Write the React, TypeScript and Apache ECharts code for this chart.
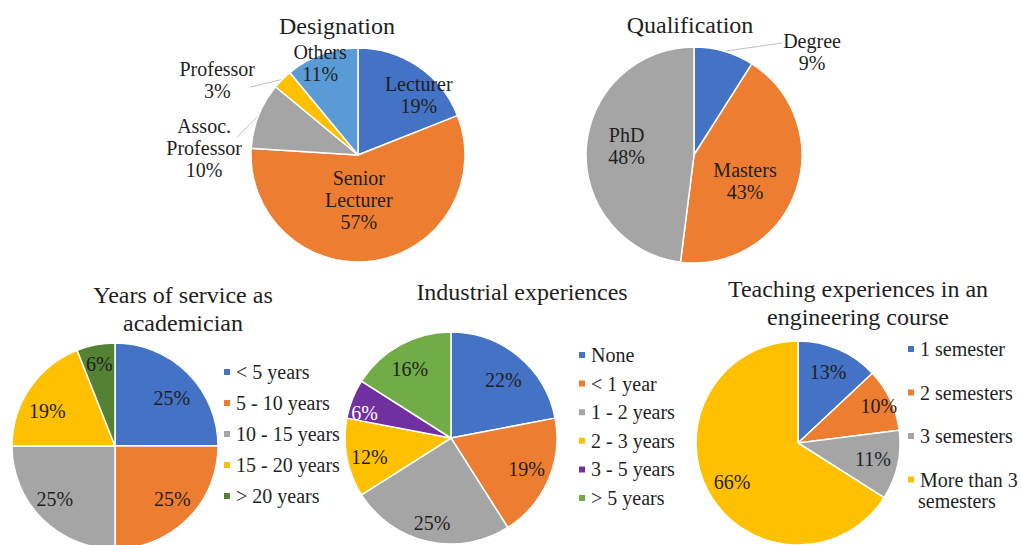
import React, { useEffect, useRef } from "react";
import * as echarts from "echarts";

// ---------- DATA ----------
const designationNames = ["Lecturer", "Senior Lecturer", "Assoc. Professor", "Professor", "Others"];
const designationLabels = ["Lecturer", "Senior\nLecturer", "Assoc.\nProfessor", "Professor", "Others"];
const designationValues = [19, 57, 10, 3, 11];

const qualificationNames = ["Degree", "Masters", "PhD"];
const qualificationValues = [9, 43, 48];

const serviceNames = ["< 5 years", "5 - 10 years", "10 - 15 years", "15 - 20 years", "> 20 years"];
const serviceValues = [25, 25, 25, 19, 6];

const industryNames = ["None", "< 1 year", "1 - 2 years", "2 - 3 years", "3 - 5 years", "> 5 years"];
const industryValues = [22, 19, 25, 12, 6, 16];

const teachingNames = ["1 semester", "2 semesters", "3 semesters", "More than 3 semesters"];
const teachingValues = [13, 10, 11, 66];

const titles = ["Designation", "Qualification", "Years of service as\nacademician", "Industrial experiences", "Teaching experiences in an\nengineering course"];

// ---------- STYLE ----------
const FONT = "Liberation Serif";
const TEXT = "#1f1f1f";
const BLUE = "#4472C4", ORANGE = "#ED7D31", GRAY = "#A5A5A5", YELLOW = "#FFC000", LBLUE = "#5B9BD5";
const GREEN = "#70AD47", DGREEN = "#548235", PURPLE = "#7030A0";

type Pie = {
  names: string[];
  values: number[];
  colors: string[];
  cx: number; cy: number; r: number;
  frac: number[];      // label distance as fraction of radius
  off: number[];       // angular tweak of label, degrees
  fmt: (i: number, v: number) => string;
  labelColors?: (string | null)[];
  leader?: ([number, number] | null)[]; // leader line end relative to label anchor
};

const pies: Pie[] = [
  {
    names: designationNames, values: designationValues,
    colors: [BLUE, ORANGE, GRAY, YELLOW, LBLUE],
    cx: 358, cy: 155, r: 107,
    frac: [0.8, 0.42, 1.44, 1.49, 0.93],
    off: [11, 8, -19, -17, -2.6],
    fmt: (i, v) => `${designationLabels[i]}\n${v}%`,
    leader: [null, null, [33, -11], [33, 7], null],
  },
  {
    names: qualificationNames, values: qualificationValues,
    colors: [BLUE, ORANGE, GRAY],
    cx: 694, cy: 155, r: 108,
    frac: [1.45, 0.53, 0.63],
    off: [32.7, 7.2, 4.1],
    fmt: (i, v) => `${qualificationNames[i]}\n${v}%`,
    leader: [[-30, -9], null, null],
  },
  {
    names: serviceNames, values: serviceValues,
    colors: [BLUE, ORANGE, GRAY, YELLOW, DGREEN],
    cx: 115, cy: 446, r: 103,
    frac: [0.72, 0.76, 0.78, 0.74, 0.81],
    off: [4.9, -2, 3.5, -7, 0],
    fmt: (_i, v) => `${v}%`,
  },
  {
    names: industryNames, values: industryValues,
    colors: [BLUE, ORANGE, GRAY, YELLOW, PURPLE, GREEN],
    cx: 451, cy: 438, r: 106,
    frac: [0.74, 0.77, 0.82, 0.79, 0.85, 0.76],
    off: [2.3, -1.2, 0, -2.2, -5.4, -1.9],
    fmt: (_i, v) => `${v}%`,
    labelColors: [null, null, null, null, "#ffffff", null],
  },
  {
    names: teachingNames, values: teachingValues,
    colors: [BLUE, ORANGE, GRAY, YELLOW],
    cx: 798, cy: 443, r: 102,
    frac: [0.76, 0.87, 0.75, 0.75],
    off: [-0.5, 0.7, -0.6, -1.8],
    fmt: (_i, v) => `${v}%`,
  },
];

const titlePos: [number, number][] = [[337, 26], [690, 25], [183, 309], [522, 292], [858, 303]];

function midAngles(values: number[]) {
  const total = values.reduce((a, b) => a + b, 0);
  let cum = 0;
  return values.map((v) => {
    const m = ((cum + v / 2) / total) * 360;
    cum += v;
    return m;
  });
}

function polar(cx: number, cy: number, d: number, deg: number): [number, number] {
  const a = (deg * Math.PI) / 180;
  return [cx + d * Math.sin(a), cy - d * Math.cos(a)];
}

const labelPoints = pies.map((p) => {
  const mids = midAngles(p.values);
  return mids.map((m, i) => polar(p.cx, p.cy, p.frac[i] * p.r, m + p.off[i]));
});

export default function App() {
  const ref = useRef<HTMLDivElement>(null);
  useEffect(() => {
    document.body.style.margin = "0";
    if (!ref.current) return;
    const chart = echarts.init(ref.current, undefined, { renderer: "svg" });

    const series = pies.map((p, si) => ({
      type: "pie",
      center: [p.cx, p.cy],
      radius: p.r,
      startAngle: 90,
      clockwise: true,
      avoidLabelOverlap: false,
      emphasis: { disabled: true },
      itemStyle: { borderColor: "#ffffff", borderWidth: 1.5 },
      label: {
        show: true,
        position: "inside",
        fontFamily: FONT,
        fontSize: 20,
        lineHeight: 22,
        color: TEXT,
        formatter: (prm: any) => p.fmt(prm.dataIndex, prm.value),
      },
      labelLine: { show: false },
      labelLayout: (prm: any) => {
        const pt = labelPoints[si][prm.dataIndex];
        return { x: pt[0], y: pt[1], align: "center", verticalAlign: "middle" };
      },
      data: p.values.map((v, i) => ({
        name: p.names[i],
        value: v,
        itemStyle: { color: p.colors[i] },
        label: p.labelColors && p.labelColors[i] ? { color: p.labelColors[i] } : undefined,
      })),
    }));

    const graphic: any[] = [];
    titles.forEach((t, i) => {
      graphic.push({
        type: "text",
        x: titlePos[i][0],
        y: titlePos[i][1],
        style: {
          text: t,
          fontFamily: FONT,
          fontSize: 24,
          lineHeight: 28,
          fill: TEXT,
          align: "center",
          verticalAlign: "middle",
        },
      });
    });
    pies.forEach((p, si) => {
      if (!p.leader) return;
      const mids = midAngles(p.values);
      p.leader.forEach((lo, i) => {
        if (!lo) return;
        const s = polar(p.cx, p.cy, p.r, mids[i]);
        const lp = labelPoints[si][i];
        graphic.push({
          type: "line",
          shape: { x1: s[0], y1: s[1], x2: lp[0] + lo[0], y2: lp[1] + lo[1] },
          style: { stroke: "#bfbfbf", lineWidth: 1 },
        });
      });
    });
    graphic.push({
      type: "text",
      x: 918,
      y: 501,
      style: { text: "semesters", fontFamily: FONT, fontSize: 20, fill: TEXT, align: "left", verticalAlign: "middle" },
    });

    const legendBase = {
      orient: "vertical",
      icon: "rect",
      itemWidth: 8,
      itemHeight: 8,
      padding: 0,
      selectedMode: false,
      textStyle: { fontFamily: FONT, fontSize: 20, lineHeight: 20, color: TEXT },
    };

    chart.setOption({
      animation: false,
      backgroundColor: "#ffffff",
      legend: [
        { ...legendBase, data: serviceNames, left: 222, top: 362, itemGap: 11 },
        { ...legendBase, data: industryNames, left: 577, top: 345, itemGap: 8.6 },
        {
          ...legendBase,
          data: teachingNames,
          left: 906,
          top: 339,
          itemGap: 23.5,
          formatter: (n: string) => (n === "More than 3 semesters" ? "More than 3" : n),
        },
      ],
      graphic,
      series,
    });
    return () => chart.dispose();
  }, []);
  return <div ref={ref} style={{ width: 1021, height: 545 }} />;
}
